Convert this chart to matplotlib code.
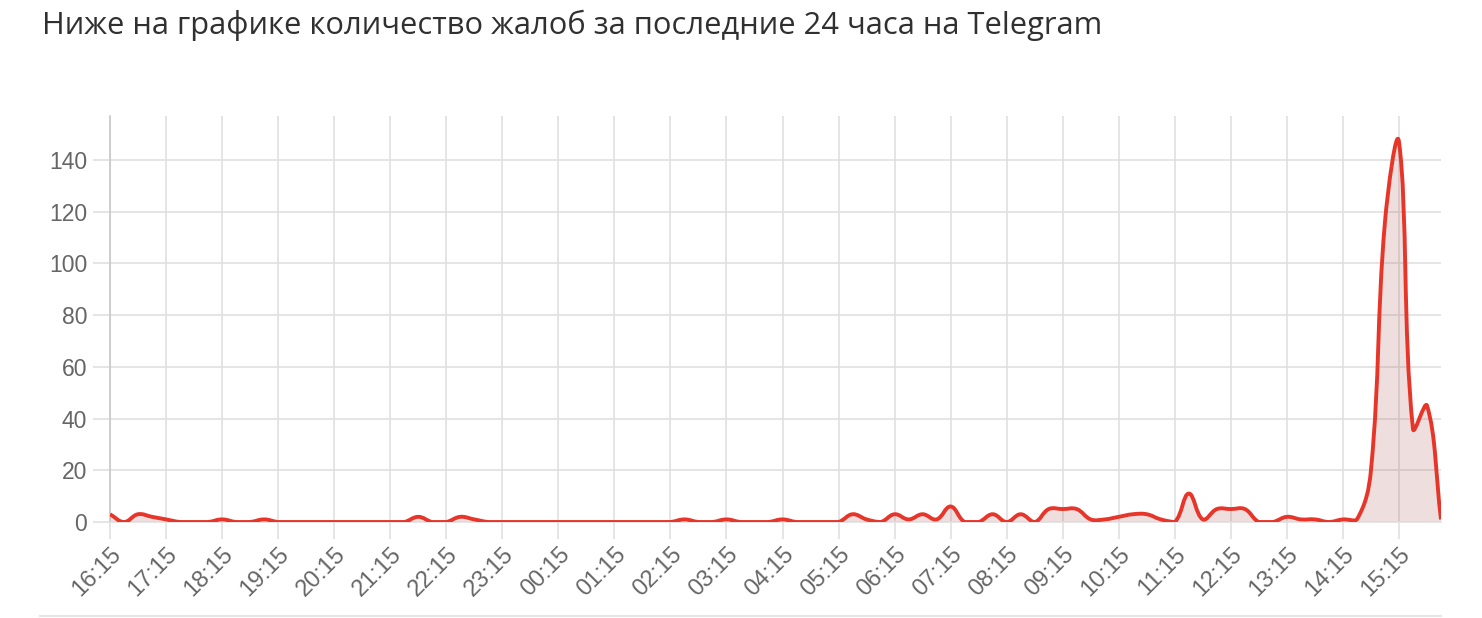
import numpy as np
import matplotlib
matplotlib.use("Agg")
import matplotlib.pyplot as plt
from matplotlib.lines import Line2D
from matplotlib.path import Path
from matplotlib.patches import PathPatch

# complaints per 15 minutes, starting 16:15
counts = [3, 0, 3, 2, 1, 0, 0, 0, 1, 0, 0, 1,
          0, 0, 0, 0, 0, 0, 0, 0, 0, 0, 2, 0,
          0, 2, 1, 0, 0, 0, 0, 0, 0, 0, 0, 0,
          0, 0, 0, 0, 0, 1, 0, 0, 1, 0, 0, 0,
          1, 0, 0, 0, 0, 3, 1, 0, 3, 1, 3, 1,
          6, 0, 0, 3, 0, 3, 0, 5, 5, 5, 1, 1,
          2, 3, 3, 1, 0, 11, 1, 5, 5, 5, 0, 0,
          2, 1, 1, 0, 1, 1, 20, 116, 147, 36, 45, 1]

hour_labels = ["16:15", "17:15", "18:15", "19:15", "20:15", "21:15",
               "22:15", "23:15", "00:15", "01:15", "02:15", "03:15",
               "04:15", "05:15", "06:15", "07:15", "08:15", "09:15",
               "10:15", "11:15", "12:15", "13:15", "14:15", "15:15"]

title = "Ниже на графике количество жалоб за последние 24 часа на Telegram"

plt.rcParams["font.family"] = ["Liberation Sans", "DejaVu Sans"]

x = np.arange(len(counts))
y = np.array(counts, dtype=float)

fig = plt.figure(figsize=(14.82, 6.18), dpi=100)
ax = fig.add_axes([110 / 1482, 1 - 522 / 618, (1441 - 110) / 1482, (522 - 116) / 618])
ax.set_xlim(0, len(counts) - 1)
ax.set_ylim(0, 157)


def spline_path(ax, x, y, tension=0.4):
    # chart.js style spline, control points worked out in screen space
    pts = ax.transData.transform(np.column_stack([x, y]))
    n = len(pts)
    cp_prev = pts.copy()
    cp_next = pts.copy()
    for i in range(n):
        prev = pts[max(i - 1, 0)]
        cur = pts[i]
        nxt = pts[min(i + 1, n - 1)]
        d01 = np.hypot(*(cur - prev))
        d12 = np.hypot(*(nxt - cur))
        tot = d01 + d12
        s01 = d01 / tot if tot else 0
        s12 = d12 / tot if tot else 0
        cp_prev[i] = cur - tension * s01 * (nxt - prev)
        cp_next[i] = cur + tension * s12 * (nxt - prev)
    inv = ax.transData.inverted()
    cp_prev = inv.transform(cp_prev)
    cp_next = inv.transform(cp_next)
    lo, hi = ax.get_ylim()
    cp_prev[:, 1] = np.clip(cp_prev[:, 1], lo, hi)
    cp_next[:, 1] = np.clip(cp_next[:, 1], lo, hi)
    verts = [(x[0], y[0])]
    codes = [Path.MOVETO]
    for i in range(n - 1):
        verts += [tuple(cp_next[i]), tuple(cp_prev[i + 1]), (x[i + 1], y[i + 1])]
        codes += [Path.CURVE4] * 3
    return verts, codes


verts, codes = spline_path(ax, x, y)
fill_verts = verts + [(x[-1], 0), (x[0], 0), (x[0], y[0])]
fill_codes = codes + [Path.LINETO, Path.LINETO, Path.CLOSEPOLY]
ax.add_patch(PathPatch(Path(fill_verts, fill_codes), facecolor=(0.67, 0.36, 0.36),
                       alpha=0.2, lw=0, zorder=2))
ax.add_patch(PathPatch(Path(verts, codes), facecolor="none", edgecolor="#e8352a",
                       lw=2.8, joinstyle="round", zorder=3))

ax.set_xticks(np.arange(0, len(counts), 4))
ax.set_xticklabels(hour_labels, rotation=45, ha="right", rotation_mode="anchor")
ax.set_yticks(np.arange(0, 141, 20))

ax.grid(True, color="#e0e0e0", lw=1.2, zorder=0)
ax.set_axisbelow(True)
for side in ["top", "right"]:
    ax.spines[side].set_visible(False)
ax.spines["left"].set_color("#c8c8c8")
ax.spines["left"].set_linewidth(1.2)
ax.spines["bottom"].set_color("#e0e0e0")
ax.spines["bottom"].set_linewidth(1.2)

ax.tick_params(axis="both", length=12.5, width=1.2, color="#e0e0e0",
               labelcolor="#666666", pad=4)
ax.tick_params(axis="y", labelsize=16.5)
ax.tick_params(axis="x", labelsize=17, pad=3)

fig.text(42 / 1482, 1 - 25 / 618, title, fontsize=22.25, color="#303030",
         family=["Open Sans", "DejaVu Sans"], va="center", ha="left")

fig.add_artist(Line2D([40 / 1482, 1441 / 1482], [1 - 616 / 618] * 2,
                      color="#e6e6e6", lw=1.5, transform=fig.transFigure))

fig.savefig("out.png", dpi=100, facecolor="white")
